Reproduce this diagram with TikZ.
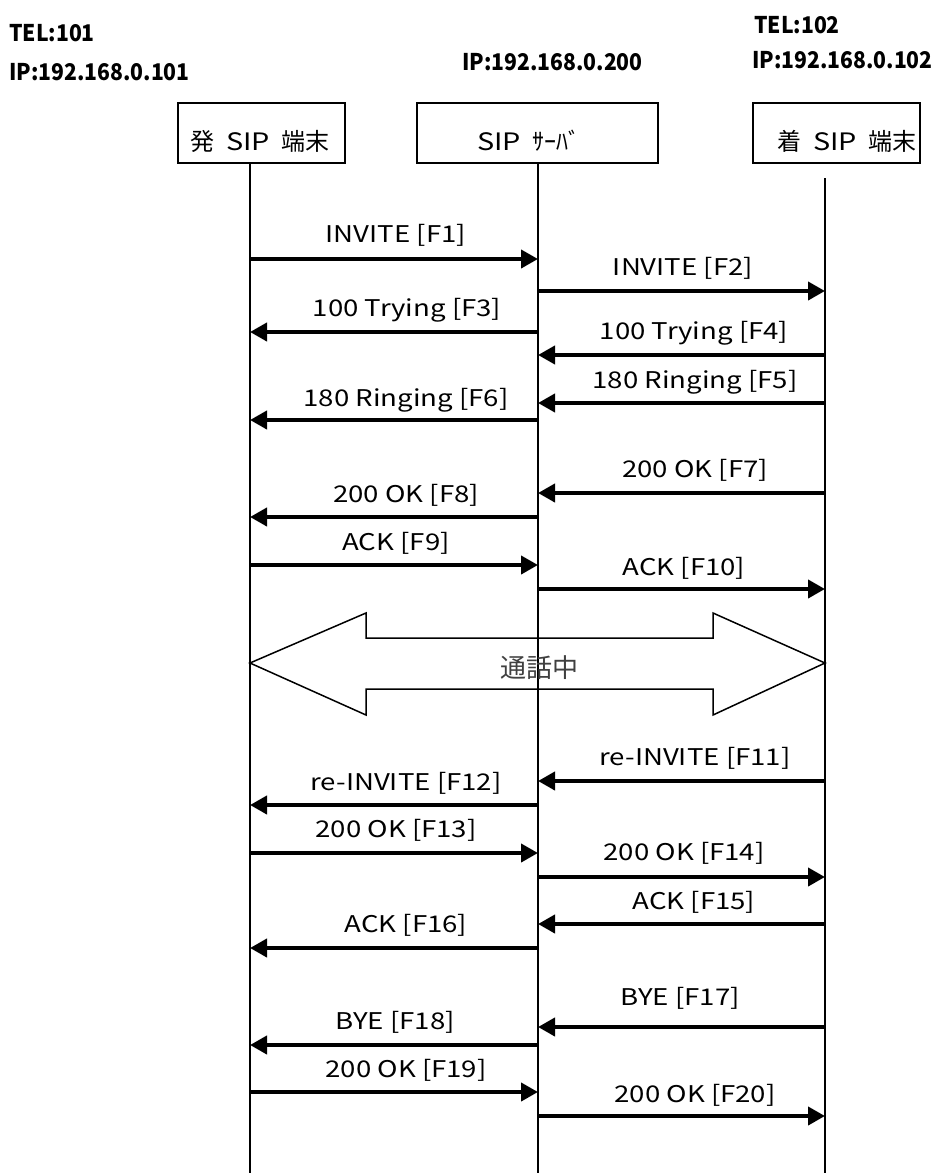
\documentclass[tikz,border=0pt]{standalone}
\usepackage{fontspec}
\setmainfont{Noto Sans CJK JP}[FakeStretch=1.2]
\newfontfamily\jp{Noto Sans CJK JP}
\newfontfamily\hdrfont{Noto Sans CJK JP}[FakeStretch=0.92]
\usetikzlibrary{arrows.meta}
\newcommand{\hsp}{\hspace{0.5em}}
\begin{document}
\begin{tikzpicture}[x=1pt,y=-1pt,
  lbl/.style={font=\fontsize{23}{26}\selectfont, inner sep=0pt},
  hdr/.style={font=\hdrfont\fontsize{23}{27}\selectfont\bfseries, anchor=west, inner sep=0pt},
  entbox/.style={draw, line width=1.5pt, inner sep=0pt, minimum height=60pt},
  enttxt/.style={font=\fontsize{24}{28}\selectfont, inner sep=0pt},
  life/.style={line width=1.5pt},
  msg/.style={line width=4pt, -{Triangle[length=17pt,width=18pt]}},
  call/.style={line width=1.5pt, line join=miter}]
\useasboundingbox (0,0) rectangle (937,1173);
% headers
\node[hdr] (tel1) at (9,33) {TEL:101};
\node[hdr] (ip1) at (9,72) {IP:192.168.0.101};
\node[hdr] (ip2) at (462,62) {IP:192.168.0.200};
\node[hdr] (tel3) at (754,25) {TEL:102};
\node[hdr] (ip3) at (752,60) {IP:192.168.0.102};
% entity boxes
\node[entbox, minimum width=167pt] (A) at (261.5,133) {};
\node[entbox, minimum width=241pt] (B) at (537.5,133) {};
\node[entbox, minimum width=167pt] (C) at (836.5,133) {};
\node[enttxt] (At) at (260,141) {{\jp 発}\hsp SIP\hsp{\jp 端末}};
\node[enttxt] (Bt) at (529,141) {SIP\hsp{\jp ｻｰﾊﾞ}};
\node[enttxt] (Ct) at (847,141) {{\jp 着}\hsp SIP\hsp{\jp 端末}};
% lifelines
\coordinate (la) at (250,163);
\coordinate (lb) at (538,163);
\coordinate (lc) at (825,178);
\coordinate (ea) at (250,1173);
\coordinate (eb) at (538,1173);
\coordinate (ec) at (825,1173);
\draw[life] (la) -- (ea);
\draw[life] (lb) -- (eb);
\draw[life] (lc) -- (ec);
% messages
\draw[msg] (la |- 0,259) -- (lb |- 0,259);
\node[lbl] (t1) at (396,235) {INVITE [F1]};
\draw[msg] (lb |- 0,291) -- (lc |- 0,291);
\node[lbl] (t2) at (683,268) {INVITE [F2]};
\draw[msg] (lb |- 0,332) -- (la |- 0,332);
\node[lbl] (t3) at (407,310) {100 Trying [F3]};
\draw[msg] (lc |- 0,355) -- (lb |- 0,355);
\node[lbl] (t4) at (694,333) {100 Trying [F4]};
\draw[msg] (lc |- 0,403) -- (lb |- 0,403);
\node[lbl] (t5) at (695,382) {180 Ringing [F5]};
\draw[msg] (lb |- 0,420) -- (la |- 0,420);
\node[lbl] (t6) at (406,400) {180 Ringing [F6]};
\draw[msg] (lc |- 0,493) -- (lb |- 0,493);
\node[lbl] (t7) at (695,470) {200 OK [F7]};
\draw[msg] (lb |- 0,517) -- (la |- 0,517);
\node[lbl] (t8) at (406,495) {200 OK [F8]};
\draw[msg] (la |- 0,565) -- (lb |- 0,565);
\node[lbl] (t9) at (396,543) {ACK [F9]};
\draw[msg] (lb |- 0,589) -- (lc |- 0,589);
\node[lbl] (t10) at (684,568) {ACK [F10]};
% call in progress
\draw[call] (la |- 0,663) -- (366,613) -- (366,638) -- (713,638) -- (713,613)
  -- (lc |- 0,663) -- (713,715) -- (713,689) -- (366,689) -- (366,715) -- cycle;
\node[font=\jp\fontsize{26}{30}\selectfont, text=black!75, inner sep=0pt] (talk) at (539,668) {通話中};
\draw[msg] (lc |- 0,781) -- (lb |- 0,781);
\node[lbl] (t11) at (695,758) {re-INVITE [F11]};
\draw[msg] (lb |- 0,805) -- (la |- 0,805);
\node[lbl] (t12) at (406,783) {re-INVITE [F12]};
\draw[msg] (la |- 0,853) -- (lb |- 0,853);
\node[lbl] (t13) at (396,830) {200 OK [F13]};
\draw[msg] (lb |- 0,877) -- (lc |- 0,877);
\node[lbl] (t14) at (684,853) {200 OK [F14]};
\draw[msg] (lc |- 0,924) -- (lb |- 0,924);
\node[lbl] (t15) at (694,902) {ACK [F15]};
\draw[msg] (lb |- 0,948) -- (la |- 0,948);
\node[lbl] (t16) at (406,925) {ACK [F16]};
\draw[msg] (lc |- 0,1027) -- (lb |- 0,1027);
\node[lbl] (t17) at (680,998) {BYE [F17]};
\draw[msg] (lb |- 0,1045) -- (la |- 0,1045);
\node[lbl] (t18) at (395,1022) {BYE [F18]};
\draw[msg] (la |- 0,1092) -- (lb |- 0,1092);
\node[lbl] (t19) at (406,1070) {200 OK [F19]};
\draw[msg] (lb |- 0,1116) -- (lc |- 0,1116);
\node[lbl] (t20) at (695,1095) {200 OK [F20]};
\end{tikzpicture}
\end{document}
